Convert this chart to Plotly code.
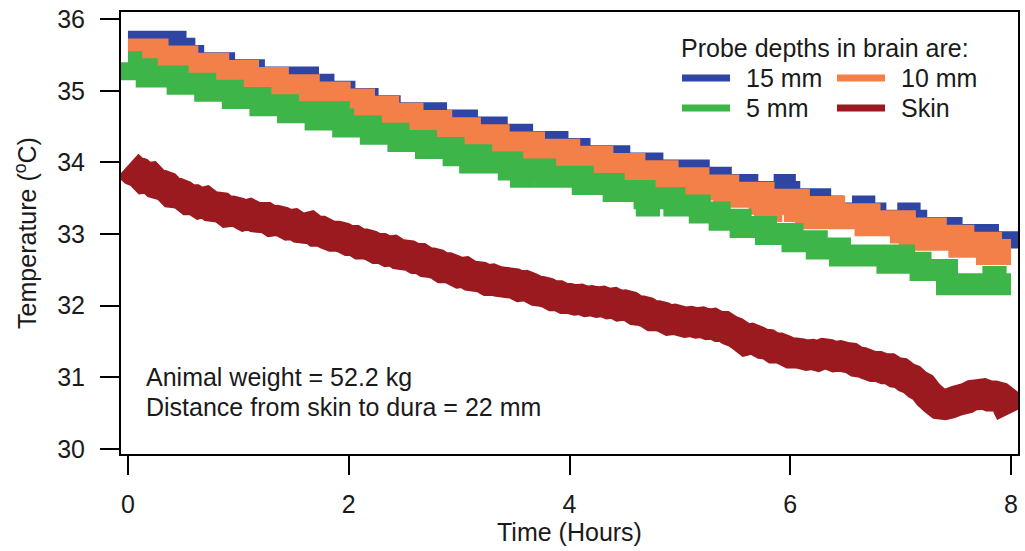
import plotly.graph_objects as go

# ---------------- data ----------------
blue_t = [0.00, 0.20, 0.23, 0.26, 0.42, 0.44, 0.52, 0.60, 0.88, 1.15, 1.45, 1.62, 1.64, 1.78,
          1.97, 2.18, 2.38, 2.80, 3.08, 3.28, 3.32, 3.35, 3.58, 3.90, 4.10, 4.46, 4.76, 5.18,
          5.38, 5.62, 5.94, 5.96, 6.00, 6.28, 6.40, 6.65, 6.68, 6.78, 7.06, 7.09, 7.15, 7.47,
          7.80, 7.98, 8.00]
blue_v = [35.7, 35.6, 35.7, 35.6, 35.7, 35.6, 35.5, 35.4, 35.3, 35.2, 35.1, 35.2, 35.1, 35.0,
          34.9, 34.8, 34.7, 34.6, 34.5, 34.4, 34.5, 34.4, 34.3, 34.2, 34.1, 34.0, 33.9, 33.8,
          33.7, 33.6, 33.7, 33.6, 33.5, 33.4, 33.3, 33.4, 33.3, 33.2, 33.3, 33.2, 33.1, 33.0,
          32.9, 32.8, 32.8]

orange_t = [0.00, 0.25, 0.52, 0.80, 1.07, 1.20, 1.22, 1.34, 1.62, 1.90, 2.00, 2.02, 2.12, 2.34,
            2.56, 2.82, 3.08, 3.34, 3.66, 3.98, 4.28, 4.57, 4.70, 4.72, 4.87, 5.15, 5.42, 5.74,
            5.79, 5.81, 6.06, 6.16, 6.18, 6.38, 6.70, 7.02, 7.10, 7.12, 7.30, 7.55, 7.80, 8.00]
orange_v = [35.55, 35.45, 35.35, 35.25, 35.15, 35.05, 35.15, 35.05, 34.95, 34.85, 34.75, 34.85,
            34.75, 34.65, 34.55, 34.45, 34.35, 34.25, 34.15, 34.05, 33.95, 33.85, 33.75, 33.85,
            33.75, 33.65, 33.55, 33.45, 33.35, 33.45, 33.35, 33.25, 33.35, 33.25, 33.15, 33.05,
            32.95, 33.05, 32.95, 32.85, 32.75, 32.75]

green_t = [0.00, 0.03, 0.17, 0.45, 0.70, 0.95, 1.20, 1.45, 1.70, 1.89, 1.91, 1.95, 2.20, 2.45,
           2.70, 2.95, 3.10, 3.12, 3.20, 3.45, 3.46, 3.48, 3.56, 3.58, 3.78, 4.12, 4.40, 4.68,
           4.70, 4.72, 4.95, 5.18, 5.36, 5.55, 5.78, 6.02, 6.24, 6.45, 6.88, 7.01, 7.03, 7.18,
           7.42, 7.84, 7.86, 8.00]
green_v = [35.4, 35.3, 35.2, 35.1, 35.0, 34.9, 34.8, 34.7, 34.6, 34.7, 34.6, 34.5, 34.4, 34.3,
           34.2, 34.1, 34.0, 34.1, 34.0, 33.9, 34.0, 33.9, 33.8, 33.9, 33.8, 33.7, 33.6, 33.5,
           33.4, 33.5, 33.4, 33.3, 33.2, 33.1, 33.0, 32.9, 32.8, 32.7, 32.6, 32.7, 32.6, 32.5,
           32.3, 32.4, 32.3, 32.3]

skin_t = [i * 0.05 for i in range(161)]
skin_v = [33.96, 33.89, 33.86, 33.78, 33.79, 33.71, 33.69, 33.66, 33.58, 33.57,
          33.54, 33.48, 33.48, 33.43, 33.45, 33.39, 33.38, 33.37, 33.31, 33.32,
          33.30, 33.26, 33.28, 33.24, 33.23, 33.23, 33.18, 33.19, 33.17, 33.13,
          33.14, 33.09, 33.08, 33.10, 33.04, 33.04, 33.00, 32.97, 32.97, 32.95,
          32.91, 32.91, 32.86, 32.86, 32.84, 32.80, 32.80, 32.76, 32.77, 32.72,
          32.71, 32.70, 32.66, 32.66, 32.61, 32.60, 32.58, 32.53, 32.53, 32.50,
          32.46, 32.47, 32.42, 32.41, 32.40, 32.36, 32.37, 32.34, 32.33, 32.32,
          32.31, 32.27, 32.28, 32.25, 32.21, 32.20, 32.18, 32.14, 32.14, 32.10,
          32.10, 32.08, 32.09, 32.06, 32.07, 32.05, 32.06, 32.03, 32.04, 32.00,
          32.01, 31.99, 31.94, 31.93, 31.91, 31.86, 31.86, 31.84, 31.80, 31.81,
          31.79, 31.77, 31.78, 31.76, 31.77, 31.74, 31.75, 31.71, 31.71, 31.66,
          31.63, 31.58, 31.52, 31.54, 31.51, 31.47, 31.46, 31.41, 31.41, 31.38,
          31.34, 31.34, 31.33, 31.31, 31.32, 31.30, 31.33, 31.32, 31.29, 31.30,
          31.28, 31.27, 31.22, 31.21, 31.18, 31.15, 31.15, 31.12, 31.12, 31.07,
          31.06, 31.00, 30.97, 30.90, 30.86, 30.76, 30.69, 30.63, 30.62, 30.64,
          30.67, 30.69, 30.71, 30.75, 30.76, 30.77, 30.74, 30.74, 30.72, 30.66,
          30.50]

x_ticks = [0, 2, 4, 6, 8]
y_ticks = [30, 31, 32, 33, 34, 35, 36]
legend_title = "Probe depths in brain are:"
series_names = ["15 mm", "10 mm", "5 mm", "Skin"]
notes = ["Animal weight = 52.2 kg", "Distance from skin to dura = 22 mm"]

# ---------------- style ----------------
C_BLUE = "#2E45A3"
C_ORANGE = "#F38048"
C_GREEN = "#3DB549"
C_RED = "#9A1A1F"
FONT = "Liberation Sans, Arial, Helvetica, sans-serif"
FS = 25
TXT = "#1a1a1a"

fig = go.Figure()
fig.add_trace(go.Scatter(x=blue_t, y=blue_v, mode="lines",
                         line=dict(color=C_BLUE, width=20, shape="hv", simplify=False),
                         name=series_names[0], hoverinfo="skip", showlegend=False))
fig.add_trace(go.Scatter(x=orange_t, y=orange_v, mode="lines",
                         line=dict(color=C_ORANGE, width=26, shape="hv", simplify=False),
                         name=series_names[1], hoverinfo="skip", showlegend=False))
fig.add_trace(go.Scatter(x=green_t, y=green_v, mode="lines",
                         line=dict(color=C_GREEN, width=22, shape="hv", simplify=False),
                         name=series_names[2], hoverinfo="skip", showlegend=False))
fig.add_trace(go.Scatter(x=skin_t, y=skin_v, mode="lines",
                         line=dict(color=C_RED, width=31, simplify=False),
                         name=series_names[3], hoverinfo="skip", showlegend=False))

axis_common = dict(showgrid=False, zeroline=False, showline=True, linecolor="black", linewidth=2,
                   mirror=True, ticks="outside", ticklen=19, tickwidth=2, tickcolor="black",
                   tickfont=dict(family=FONT, size=FS, color=TXT))

fig.update_xaxes(range=[-0.063, 8.063], tickvals=x_ticks, ticklabelstandoff=8,
                 title=dict(text="Time (Hours)", font=dict(family=FONT, size=FS, color=TXT), standoff=1),
                 **axis_common)
fig.update_yaxes(range=[29.93, 36.1], tickvals=y_ticks, ticklabelstandoff=10,
                 title=dict(text="Temperature (<sup>o</sup>C)", font=dict(family=FONT, size=FS, color=TXT), standoff=13),
                 **axis_common)

# ---------------- manual legend ----------------
L, R, T, B = 121, 1018, 12, 454
W, H = R - L, B - T


def px(x):
    return (x - L) / W


def py(y):
    return (B - y) / H


annotations = []
shapes = []
annotations.append(dict(x=px(679), y=py(48), xref="paper", yref="paper", text=legend_title,
                        showarrow=False, xanchor="left", yanchor="middle",
                        font=dict(family=FONT, size=FS, color=TXT)))
legend_items = [
    (series_names[0], C_BLUE, 682, 730, 744, 78),
    (series_names[1], C_ORANGE, 837, 885, 899, 78),
    (series_names[2], C_GREEN, 682, 730, 744, 108),
    (series_names[3], C_RED, 837, 885, 899, 108),
]
for name, col, x0, x1, xt, yy in legend_items:
    shapes.append(dict(type="line", xref="paper", yref="paper", x0=px(x0), x1=px(x1), y0=py(yy), y1=py(yy),
                       line=dict(color=col, width=7)))
    annotations.append(dict(x=px(xt), y=py(yy), xref="paper", yref="paper", text=name, showarrow=False,
                            xanchor="left", yanchor="middle", font=dict(family=FONT, size=FS, color=TXT)))

annotations.append(dict(x=px(144), y=py(377), xref="paper", yref="paper", text=notes[0], showarrow=False,
                        xanchor="left", yanchor="middle", font=dict(family=FONT, size=FS, color=TXT)))
annotations.append(dict(x=px(144), y=py(407), xref="paper", yref="paper", text=notes[1], showarrow=False,
                        xanchor="left", yanchor="middle", font=dict(family=FONT, size=FS, color=TXT)))

fig.update_layout(width=1025, height=551, margin=dict(l=L, r=1025 - R, t=T, b=551 - B, autoexpand=False),
                  paper_bgcolor="white", plot_bgcolor="white", showlegend=False,
                  annotations=annotations, shapes=shapes)

fig.write_html("out.html")
